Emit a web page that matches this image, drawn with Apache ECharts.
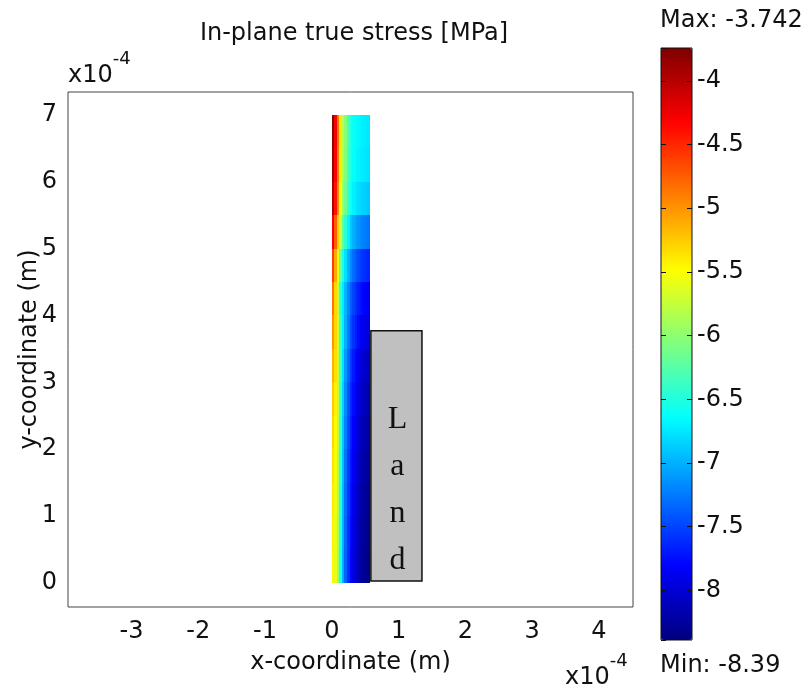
<!DOCTYPE html>
<html>
<head>
<meta charset="utf-8">
<script src="https://cdn.jsdelivr.net/npm/echarts@6/dist/echarts.min.js"></script>
<style>
  html, body { margin: 0; padding: 0; background: #fff; }
  #main { width: 809px; height: 690px; }
</style>
</head>
<body>
<div id="main"></div>
<script>
// coordinates are in units of 1e-4 m
const xEdges = [0, 0.038, 0.076, 0.114, 0.152, 0.19, 0.228, 0.266, 0.304, 0.342, 0.38, 0.418, 0.456, 0.494, 0.532, 0.57];
const yEdges = [0, 0.5, 1, 1.5, 2, 2.5, 3, 3.5, 4, 4.5, 5, 5.5, 6, 6.5, 7];
// stress [MPa], one row per y band (bottom to top), left to right
const stress = [
    [-5.45, -5.6, -5.95, -6.5, -7.0, -7.35, -7.6, -7.8, -7.95, -8.05, -8.15, -8.22, -8.28, -8.33, -8.37],
    [-5.43, -5.58, -5.93, -6.48, -6.98, -7.33, -7.58, -7.78, -7.93, -8.03, -8.13, -8.2, -8.26, -8.31, -8.35],
    [-5.4, -5.55, -5.9, -6.45, -6.95, -7.3, -7.55, -7.75, -7.9, -8.0, -8.1, -8.17, -8.23, -8.28, -8.32],
    [-5.36, -5.52, -5.87, -6.42, -6.92, -7.27, -7.52, -7.72, -7.86, -7.97, -8.06, -8.13, -8.19, -8.24, -8.28],
    [-5.3, -5.47, -5.83, -6.38, -6.88, -7.22, -7.47, -7.67, -7.81, -7.92, -8.01, -8.08, -8.14, -8.19, -8.23],
    [-5.24, -5.42, -5.8, -6.35, -6.83, -7.17, -7.42, -7.62, -7.76, -7.87, -7.96, -8.03, -8.09, -8.14, -8.18],
    [-5.14, -5.35, -5.75, -6.3, -6.77, -7.1, -7.35, -7.55, -7.69, -7.8, -7.89, -7.96, -8.02, -8.07, -8.11],
    [-5.0, -5.3, -5.75, -6.3, -6.7, -7.0, -7.25, -7.45, -7.58, -7.68, -7.77, -7.84, -7.9, -7.95, -7.99],
    [-4.85, -5.3, -5.8, -6.4, -6.72, -6.98, -7.2, -7.38, -7.5, -7.6, -7.68, -7.74, -7.79, -7.84, -7.88],
    [-4.6, -5.1, -5.6, -6.15, -6.5, -6.78, -7.0, -7.18, -7.3, -7.4, -7.48, -7.54, -7.58, -7.62, -7.65],
    [-4.3, -4.75, -5.25, -5.75, -6.15, -6.45, -6.7, -6.9, -7.0, -7.08, -7.14, -7.18, -7.22, -7.25, -7.28],
    [-3.95, -4.4, -4.95, -5.5, -5.9, -6.15, -6.4, -6.6, -6.7, -6.75, -6.8, -6.82, -6.85, -6.87, -6.9],
    [-3.85, -4.32, -4.88, -5.42, -5.82, -6.07, -6.32, -6.52, -6.62, -6.67, -6.7, -6.72, -6.74, -6.76, -6.78],
    [-3.8, -4.28, -4.85, -5.4, -5.8, -6.05, -6.3, -6.5, -6.6, -6.65, -6.68, -6.7, -6.72, -6.74, -6.75]
];
const stressMin = -8.39;
const stressMax = -3.742;
// land block [x0, x1, y0, y1]
const landBox = [[0.585, 1.35, 0.03, 3.77]];

const jet = ['#00007f', '#0000ff', '#007fff', '#00ffff', '#7fff7f',
             '#ffff00', '#ff7f00', '#ff0000', '#7f0000'];
const font = 'DejaVu Sans';
const fs = 24;

let cells = [];
for (let j = 0; j < stress.length; j++) {
    for (let i = 0; i < stress[j].length; i++) {
        cells.push([xEdges[i], xEdges[i + 1], yEdges[j], yEdges[j + 1], stress[j][i]]);
    }
}

function renderCell(params, api) {
    let p0 = api.coord([api.value(0), api.value(2)]);
    let p1 = api.coord([api.value(1), api.value(3)]);
    let x0 = Math.round(p0[0]), x1 = Math.round(p1[0]);
    let y0 = Math.round(p0[1]), y1 = Math.round(p1[1]);
    return {
        type: 'rect',
        shape: {x: x0, y: y1, width: x1 - x0, height: y0 - y1},
        style: {fill: api.visual('color'), stroke: null}
    };
}

function renderLand(params, api) {
    let p0 = api.coord([api.value(0), api.value(2)]);
    let p1 = api.coord([api.value(1), api.value(3)]);
    return {
        type: 'group',
        children: [{
            type: 'rect',
            shape: {x: p0[0], y: p1[1], width: p1[0] - p0[0], height: p0[1] - p1[1]},
            style: {fill: '#c0c0c0', stroke: '#111', lineWidth: 1.5}
        }, {
            type: 'text',
            x: (p0[0] + p1[0]) / 2 + 1,
            y: (p0[1] + p1[1]) / 2 + 34,
            style: {
                text: 'L\na\nn\nd', fill: '#111', font: '32px "Liberation Serif"',
                lineHeight: 47, align: 'center', verticalAlign: 'middle'
            }
        }]
    };
}

function expLabel(left, top) {
    return {
        type: 'text', left: left, top: top,
        style: {
            text: '{b|x10}{s|-4}', fill: '#111',
            rich: {
                b: {fontSize: fs, fontFamily: font, padding: [14, 0, 0, 0]},
                s: {fontSize: 18, fontFamily: font, verticalAlign: 'top'}
            }
        }
    };
}

let myChart = echarts.init(document.getElementById('main'));
let option = {
    animation: false,
    textStyle: {fontFamily: font, color: '#111'},
    grid: [
        {left: 68, right: 176, top: 92, bottom: 83, show: true, borderColor: '#444', borderWidth: 1, backgroundColor: '#fff'},
        {left: 661, top: 48, width: 31, height: 592, show: true, borderColor: '#111', borderWidth: 1, backgroundColor: 'transparent', z: 5}
    ],
    xAxis: [{
        type: 'value', min: -3.95, max: 4.51, splitNumber: 8,
        name: 'x-coordinate (m)', nameLocation: 'middle', nameGap: 44, nameMoveOverlap: false,
        nameTextStyle: {fontSize: fs, color: '#111', fontFamily: font},
        axisLine: {show: false}, axisTick: {show: false}, splitLine: {show: false},
        axisLabel: {fontSize: fs, color: '#111', margin: 13, showMinLabel: false, showMaxLabel: false}
    }, {
        gridIndex: 1, type: 'value', show: false, min: 0, max: 1
    }],
    yAxis: [{
        type: 'value', min: -0.36, max: 7.34, splitNumber: 7,
        name: 'y-coordinate (m)', nameLocation: 'middle', nameGap: 26, nameMoveOverlap: false,
        nameTextStyle: {fontSize: fs, color: '#111', fontFamily: font},
        axisLine: {show: false}, axisTick: {show: false}, splitLine: {show: false},
        axisLabel: {fontSize: fs, color: '#111', margin: 11, showMinLabel: false, showMaxLabel: false}
    }, {
        gridIndex: 1, type: 'value', position: 'right', min: stressMin, max: stressMax, splitNumber: 9, z: 20,
        axisLine: {show: false, onZero: false}, splitLine: {show: false},
        axisTick: {show: true, inside: true, length: 5, lineStyle: {color: '#111'}},
        axisLabel: {fontSize: fs, color: '#111', margin: 5, padding: [6, 0, 0, 0], showMinLabel: false, showMaxLabel: false}
    }, {
        gridIndex: 1, type: 'value', position: 'left', min: stressMin, max: stressMax, splitNumber: 9, z: 20,
        axisLine: {show: false, onZero: false}, splitLine: {show: false},
        axisTick: {show: true, inside: true, length: 5, lineStyle: {color: '#111'}},
        axisLabel: {show: false}
    }],
    visualMap: {
        type: 'continuous', seriesIndex: 0, dimension: 4, z: 1,
        min: stressMin, max: stressMax, calculable: false,
        left: 661, top: 48, padding: 0, itemWidth: 31, itemHeight: 592,
        text: null, showLabel: false, hoverLink: false,
        inRange: {color: jet}
    },
    title: {
        text: 'In-plane true stress [MPa]', left: 349, top: 17, textAlign: 'center',
        textStyle: {fontSize: fs, fontWeight: 'normal', color: '#111', fontFamily: font}
    },
    graphic: [
        {type: 'text', left: 660, top: 9, style: {text: 'Max: -3.742', fill: '#111', font: fs + 'px "' + font + '"'}},
        {type: 'text', left: 660, top: 654, style: {text: 'Min: -8.39', fill: '#111', font: fs + 'px "' + font + '"'}},
        expLabel(68, 50),
        expLabel(565, 652)
    ],
    series: [{
        type: 'custom', renderItem: renderCell, clip: true,
        encode: {x: [0, 1], y: [2, 3]},
        data: cells
    }, {
        type: 'custom', renderItem: renderLand,
        encode: {x: [0, 1], y: [2, 3]},
        data: landBox
    }]
};
myChart.setOption(option);
window.onresize = myChart.resize;
</script>
</body>
</html>
